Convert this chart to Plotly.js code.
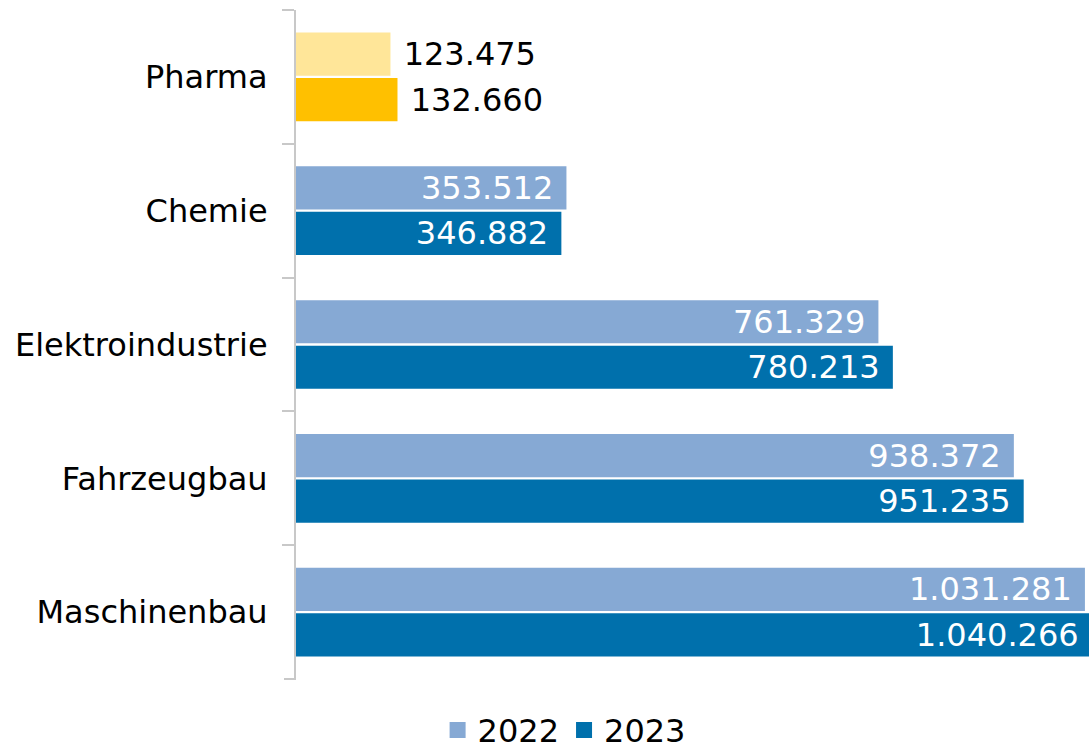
<!DOCTYPE html>
<html>
<head>
<meta charset="utf-8">
<script src="https://cdn.plot.ly/plotly-3.0.1.min.js"></script>
<style>html,body{margin:0;padding:0;background:#fff;}#chart{width:1089px;height:752px;}</style>
</head>
<body>
<div id="chart"></div>
<script>
const categories = ["Pharma", "Chemie", "Elektroindustrie", "Fahrzeugbau", "Maschinenbau"];
const values2022 = [123475, 353512, 761329, 938372, 1031281];
const values2023 = [132660, 346882, 780213, 951235, 1040266];
const colors2022 = ["#FFE699", "#86A9D4", "#86A9D4", "#86A9D4", "#86A9D4"];
const colors2023 = ["#FFC000", "#0070AC", "#0070AC", "#0070AC", "#0070AC"];
const textPos = ["outside", "inside", "inside", "inside", "inside"];
const legendNames = ["2022", "2023"];
const legendColors = ["#86A9D4", "#0070AC"];

const NB = "\u00a0";
function fmt(v) {
  return String(v).replace(/\B(?=(\d{3})+(?!\d))/g, ".");
}
function labels(vals) {
  return vals.map((v, i) => textPos[i] === "outside" ? NB + fmt(v) : fmt(v) + NB);
}

const FONT = "DejaVu Sans, Verdana, sans-serif";
const FS = 32;
const AXIS_GRAY = "#C8C8C8";

function barTrace(name, vals, cols) {
  return {
    type: "bar",
    orientation: "h",
    name: name,
    y: categories,
    x: vals,
    marker: { color: cols, line: { width: 0 } },
    text: labels(vals),
    textposition: textPos,
    insidetextanchor: "end",
    constraintext: "none",
    textangle: 0,
    insidetextfont: { family: FONT, size: FS, color: "#ffffff" },
    outsidetextfont: { family: FONT, size: FS, color: "#000000" },
    cliponaxis: true,
    hoverinfo: "x+y",
    showlegend: false
  };
}

const traces = [
  barTrace(legendNames[0], values2022, colors2022),
  barTrace(legendNames[1], values2023, colors2023)
];
legendNames.forEach((n, i) => {
  traces.push({
    type: "scatter",
    mode: "markers",
    name: n,
    x: [null],
    y: [null],
    marker: { symbol: "square", size: 16, color: legendColors[i] },
    showlegend: true,
    hoverinfo: "skip"
  });
});

const layout = {
  width: 1089,
  height: 752,
  margin: { l: 296, r: 0, t: 10, b: 73 },
  paper_bgcolor: "#ffffff",
  plot_bgcolor: "#ffffff",
  font: { family: FONT, size: FS, color: "#000000" },
  barmode: "group",
  bargap: 0.32,
  bargroupgap: 0.05,
  showlegend: true,
  legend: {
    orientation: "h",
    xref: "container",
    yref: "container",
    x: 0.518,
    xanchor: "center",
    y: 0.029,
    yanchor: "middle",
    font: { family: FONT, size: FS, color: "#000000" },
    itemwidth: 30,
    tracegroupgap: 0
  },
  xaxis: {
    range: [0, 1036600],
    visible: false,
    showgrid: false,
    zeroline: false,
    fixedrange: true
  },
  yaxis: {
    type: "category",
    categoryorder: "array",
    categoryarray: categories,
    range: [4.5, -0.5],
    showline: true,
    linecolor: AXIS_GRAY,
    linewidth: 2,
    ticks: "outside",
    tickson: "boundaries",
    ticklen: 12,
    tickwidth: 2,
    tickcolor: AXIS_GRAY,
    ticklabelstandoff: 20,
    showgrid: false,
    zeroline: false,
    tickfont: { family: FONT, size: FS, color: "#000000" },
    fixedrange: true
  },
  shapes: [{
    type: "line",
    xref: "paper",
    yref: "paper",
    x0: -12 / 793,
    x1: 0,
    y0: 0,
    y1: 0,
    line: { color: AXIS_GRAY, width: 2 },
    layer: "above"
  }]
};

Plotly.newPlot("chart", traces, layout, { displayModeBar: false, staticPlot: true });
</script>
</body>
</html>
